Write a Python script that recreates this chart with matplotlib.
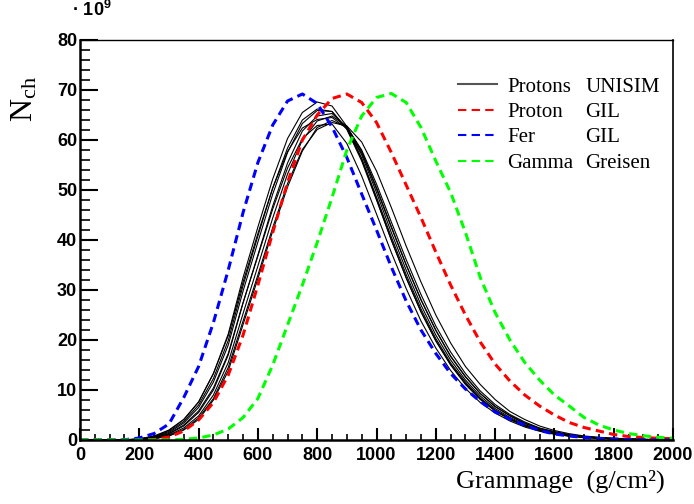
import matplotlib
matplotlib.use("Agg")
import matplotlib.pyplot as plt
import numpy as np

plt.rcParams['lines.scale_dashes'] = False
plt.rcParams['mathtext.fontset'] = 'custom'
plt.rcParams['mathtext.rm'] = 'Liberation Serif'
plt.rcParams['mathtext.bf'] = 'Liberation Sans:bold'

# grammage grid, g/cm^2
x = np.arange(0, 2001, 50)

# longitudinal profiles, N_ch in units of 1e9
#                0    50   100  150   200   250   300   350   400   450   500   550   600   650   700   750   800   850   900   950  1000  1050  1100  1150  1200  1250  1300  1350  1400  1450  1500  1550  1600  1650  1700  1750  1800  1850  1900  1950  2000
fer_gil =     [0.0, 0.0, 0.0, 0.05, 0.4,  1.3,  3.2,  8.5, 14.7, 23.5, 34.0, 45.5, 55.5, 63.0, 67.8, 69.2, 67.3, 62.6, 56.5, 49.2, 42.0, 34.6, 27.8, 22.0, 17.3, 13.3, 10.2,  7.7,  5.6,  4.2,  3.0,  1.9,  1.2,  0.8,  0.5,  0.3,  0.2,  0.1, 0.05,  0.0,  0.0]
proton_gil =  [0.0, 0.0, 0.0, 0.0,  0.0,  0.1,  0.6,  1.8,  4.0,  7.5, 13.0, 21.0, 31.0, 41.5, 51.5, 60.0, 65.0, 68.3, 69.2, 67.5, 63.5, 57.5, 51.0, 44.5, 37.6, 31.0, 25.0, 19.6, 15.2, 11.8,  9.0,  6.8,  5.0,  3.5,  2.5,  1.8,  1.1,  0.7,  0.5, 0.35, 0.25]
gamma_greisen=[0.0, 0.0, 0.0, 0.0,  0.0,  0.0,  0.0, 0.15,  0.4,  1.0,  2.2,  4.5,  8.3, 15.0, 23.0, 31.0, 39.5, 48.5, 58.0, 64.8, 68.5, 69.3, 67.5, 62.5, 55.8, 49.5, 41.5, 32.5, 25.5, 20.0, 15.5, 12.0,  9.0,  6.8,  4.5,  3.0,  2.0,  1.3, 0.85, 0.55, 0.35]

# UNISIM proton showers
unisim_1 = [0.0, 0.0, 0.0, 0.02, 0.2, 0.7, 1.9, 4.1, 7.6, 13.3, 21.2, 32.5, 42.6, 52.2, 60.3, 65.5, 67.6, 66.8, 62.7, 56.2, 48.2, 40.0, 32.4, 25.6, 19.8, 15.0, 11.1, 8.1, 5.8, 4.1, 2.8, 1.9, 1.25, 0.8, 0.54, 0.35, 0.22, 0.14, 0.08, 0.03, 0.0]
unisim_2 = [0.0, 0.0, 0.0, 0.02, 0.15, 0.56, 1.5, 3.4, 6.5, 11.6, 19.0, 29.8, 39.6, 49.2, 57.5, 63.3, 65.9, 65.7, 62.3, 56.3, 48.6, 40.6, 33.1, 26.2, 20.3, 15.4, 11.6, 8.4, 6.0, 4.3, 2.9, 2.0, 1.3, 0.85, 0.57, 0.38, 0.23, 0.14, 0.09, 0.04, 0.0]
unisim_3 = [0.0, 0.0, 0.0, 0.01, 0.1, 0.4, 1.2, 2.8, 5.5, 10.0, 17.0, 27.4, 37.0, 46.8, 55.4, 61.8, 64.8, 65.3, 62.5, 57.0, 49.5, 41.5, 34.0, 27.0, 21.0, 16.0, 12.0, 8.8, 6.3, 4.5, 3.1, 2.1, 1.4, 0.9, 0.6, 0.4, 0.25, 0.15, 0.1, 0.05, 0.0]
unisim_4 = [0.0, 0.0, 0.0, 0.01, 0.05, 0.3, 1.0, 2.4, 4.8, 9.0, 15.5, 25.3, 34.8, 44.4, 53.2, 60.0, 63.8, 64.8, 62.7, 57.7, 50.5, 42.7, 35.1, 28.1, 22.0, 16.8, 12.7, 9.3, 6.7, 4.9, 3.4, 2.3, 1.5, 1.0, 0.65, 0.44, 0.27, 0.17, 0.11, 0.06, 0.01]
unisim_5 = [0.0, 0.0, 0.0, 0.01, 0.06, 0.24, 0.8, 2.0, 4.1, 8.0, 13.8, 23.1, 32.3, 41.8, 50.6, 57.8, 62.5, 63.9, 62.6, 58.0, 51.2, 43.6, 36.1, 29.1, 22.8, 17.6, 13.3, 9.8, 7.1, 5.1, 3.6, 2.4, 1.7, 1.1, 0.7, 0.47, 0.29, 0.19, 0.12, 0.07, 0.02]
unisim_6 = [0.0, 0.0, 0.0, 0.01, 0.06, 0.27, 0.87, 2.1, 4.4, 8.3, 14.5, 23.8, 33.0, 42.5, 51.3, 58.1, 62.1, 63.5, 62.8, 59.6, 53.8, 46.5, 38.8, 31.6, 25.0, 19.4, 14.7, 11.1, 8.1, 5.7, 4.1, 2.8, 1.9, 1.26, 0.81, 0.54, 0.36, 0.22, 0.14, 0.09, 0.04]
unisim_7 = [0.0, 0.0, 0.0, 0.03, 0.25, 0.8, 2.0, 4.1, 7.6, 13.3, 20.9, 31.6, 41.3, 50.4, 57.7, 62.4, 64.1, 64.5, 62.3, 57.4, 50.2, 42.5, 35.0, 28.0, 21.9, 16.7, 12.6, 9.3, 6.7, 4.8, 3.3, 2.3, 1.5, 1.0, 0.65, 0.43, 0.27, 0.17, 0.11, 0.06, 0.01]
unisim_8 = [0.0, 0.0, 0.0, 0.01, 0.12, 0.47, 1.3, 3.0, 5.8, 10.4, 17.3, 27.5, 36.8, 46.2, 54.4, 60.3, 62.9, 63.2, 59.3, 52.8, 45.2, 37.5, 30.3, 23.8, 18.4, 13.9, 10.3, 7.5, 5.4, 3.8, 2.6, 1.75, 1.15, 0.75, 0.5, 0.33, 0.2, 0.13, 0.08, 0.03, 0.0]
unisim_9 = [0.0, 0.0, 0.0, 0.02, 0.2, 0.65, 1.7, 3.7, 7.0, 12.3, 19.9, 30.9, 40.8, 50.4, 58.4, 64.0, 66.2, 65.7, 62.1, 55.8, 48.0, 40.0, 32.5, 25.7, 19.9, 15.1, 11.3, 8.2, 5.9, 4.1, 2.9, 1.9, 1.3, 0.83, 0.55, 0.37, 0.22, 0.14, 0.09, 0.04, 0.0]
unisim = [unisim_1, unisim_2, unisim_3, unisim_4, unisim_5, unisim_6, unisim_7, unisim_8, unisim_9]

fig = plt.figure(figsize=(6.94, 5.04), dpi=100)
ax = fig.add_axes([80/694, 64/504, 593/694, 400/504])

for i, prof in enumerate(unisim):
    ax.plot(x, prof, color='black', lw=0.8, label='Protons' if i == 0 else None)

dash = (6, 3.8)
ax.plot(x, proton_gil, color='#ff0000', lw=2.2, dashes=dash, label='Proton')
ax.plot(x, fer_gil, color='#0000ff', lw=2.2, dashes=dash, label='Fer')
ax.plot(x, gamma_greisen, color='#00ff00', lw=2.2, dashes=dash, label='Gamma')

ax.set_xlim(0, 2000)
ax.set_ylim(0, 80)
ax.set_xticks(np.arange(0, 2001, 200))
ax.set_xticks(np.arange(0, 2001, 50), minor=True)
ax.set_yticks(np.arange(0, 81, 10))
ax.set_yticks(np.arange(0, 81, 2), minor=True)
ax.tick_params(axis='x', which='major', direction='in', length=9, width=1.5, pad=5)
ax.tick_params(axis='x', which='minor', direction='in', length=4.5, width=1.2)
ax.tick_params(axis='y', which='major', direction='in', length=13, width=1.5, pad=2)
ax.tick_params(axis='y', which='minor', direction='in', length=7, width=1.2)
ax.tick_params(top=False, right=False, which='both')
for lab in ax.get_xticklabels() + ax.get_yticklabels():
    lab.set_fontfamily('Liberation Sans')
    lab.set_fontweight('bold')
    lab.set_fontsize(13)
ax.spines['left'].set_linewidth(1.8)
ax.spines['bottom'].set_linewidth(1.8)
ax.spines['top'].set_linewidth(1.0)
ax.spines['right'].set_linewidth(1.2)

ax.set_xlabel('Grammage  (g/cm²)', fontfamily='Liberation Serif', fontsize=19)
ax.xaxis.set_label_coords((665 - 80) / 593, -0.075)
ax.xaxis.label.set_horizontalalignment('right')
ax.set_ylabel(r'$\mathrm{N_{ch}}$', fontsize=23)
ax.yaxis.set_label_coords(-0.095, 0.91)
ax.yaxis.label.set_verticalalignment('center')
ax.yaxis.label.set_horizontalalignment('right')

fig.text(72/694, 1 - 10/504, '· $\\mathbf{10^{9}}$', fontfamily='Liberation Sans',
         fontweight='bold', fontsize=13, va='center', ha='left')

leg = ax.legend(loc='upper left', bbox_to_anchor=(458/694, 1 - 77/504),
                bbox_transform=fig.transFigure, frameon=False, borderpad=0,
                borderaxespad=0, handlelength=1.85, handletextpad=0.5,
                labelspacing=0.28, prop={'family': 'Liberation Serif', 'size': 15})
for line in leg.get_lines():
    line.set_linewidth(1.5)
leg.get_lines()[0].set_color('#555555')

# second legend column
fig.canvas.draw()
renderer = fig.canvas.get_renderer()
inv = fig.transFigure.inverted()
for txt, word in zip(leg.get_texts(), ['UNISIM', 'GIL', 'GIL', 'Greisen']):
    bb = txt.get_window_extent(renderer)
    y0 = inv.transform((0, bb.y0))[1]
    fig.text(585/694, y0, word, fontfamily='Liberation Serif', fontsize=15,
             va='bottom', ha='left')

fig.savefig('out.png', dpi=100)
